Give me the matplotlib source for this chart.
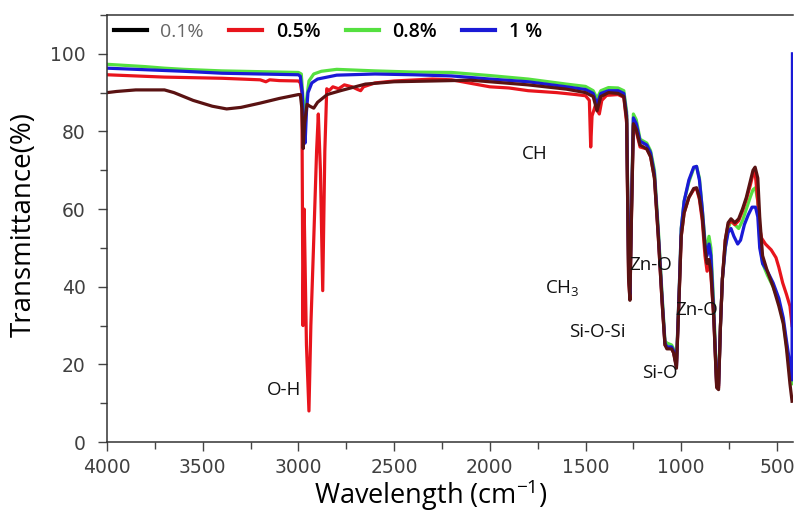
import matplotlib

matplotlib.use("Agg")
import matplotlib.pyplot as plt
from matplotlib.lines import Line2D
from matplotlib.ticker import MultipleLocator

# FTIR spectra: (wavenumber cm-1, transmittance %)
wn_01 = [4000, 3950, 3850, 3700, 3650, 3550, 3450, 3375, 3300, 3200, 3100, 3000,
         2990, 2982, 2975, 2968, 2955, 2940, 2920, 2900, 2850, 2780, 2650, 2500,
         2300, 2100, 2000, 1800, 1600, 1500, 1460, 1440, 1420, 1380, 1330, 1300,
         1285, 1275, 1268, 1260, 1250, 1235, 1215, 1180, 1160, 1140, 1120, 1100,
         1085, 1075, 1050, 1040, 1025, 1010, 1000, 985, 960, 935, 920, 905, 890,
         876, 865, 855, 845, 830, 815, 805, 795, 785, 770, 755, 740, 720, 700,
         680, 660, 640, 625, 614, 600, 590, 575, 550, 520, 490, 467, 450, 432, 421]
t_01 = [90.0, 90.3, 90.7, 90.7, 90.0, 88.0, 86.5, 85.8, 86.2, 87.3, 88.5, 89.5,
        89.5, 86.0, 75.6, 82.0, 87.0, 86.5, 86.0, 87.5, 89.5, 90.5, 92.2, 92.8,
        93.0, 93.2, 92.8, 92.0, 90.9, 90.0, 89.0, 85.3, 89.0, 90.0, 89.8, 89.0,
        83.0, 42.0, 36.5, 58.0, 82.0, 80.5, 76.5, 75.5, 73.5, 68.0, 53.0, 36.0,
        25.0, 24.0, 24.0, 23.0, 19.0, 39.0, 53.0, 59.0, 63.0, 65.3, 65.5, 63.0, 58.0,
        50.0, 46.0, 47.0, 44.0, 32.0, 14.0, 13.5, 30.0, 42.0, 52.0, 56.5, 57.5, 56.5, 57.5,
        60.0, 63.0, 67.0, 70.0, 70.8, 68.0, 58.0, 48.0, 44.0, 40.0, 35.0, 30.5, 24.0, 15.0, 10.5]

wn_05 = [4000, 3900, 3800, 3700, 3600, 3500, 3400, 3300, 3200, 3170, 3150, 3100,
         3000, 2990, 2982, 2976, 2970, 2958, 2945, 2935, 2922, 2905, 2896, 2885,
         2873, 2862, 2852, 2840, 2820, 2790, 2760, 2720, 2690, 2675, 2660, 2600,
         2500, 2300, 2200, 2000, 1900, 1800, 1650, 1550, 1500, 1480, 1473, 1466,
         1450, 1428, 1415, 1390, 1330, 1300, 1285, 1275, 1268, 1260, 1250, 1235,
         1215, 1180, 1160, 1140, 1120, 1100, 1085, 1075, 1050, 1040, 1025, 1010,
         1000, 985, 960, 935, 920, 905, 890, 876, 865, 855, 845, 830, 815, 805, 795,
         785, 770, 755, 740, 720, 700, 680, 660, 640, 625, 614, 600, 590, 580, 560,
         530, 505, 490, 470, 450, 432, 421]
t_05 = [94.6, 94.4, 94.2, 94.0, 93.9, 93.8, 93.7, 93.5, 93.3, 92.8, 93.3, 93.1,
        93.0, 92.5, 90.0, 30.0, 60.0, 25.0, 8.0, 30.0, 49.0, 75.0, 84.5, 70.0,
        39.0, 75.0, 91.0, 90.5, 91.5, 91.0, 92.0, 91.5, 90.8, 90.5, 91.5, 92.5,
        93.0, 93.5, 93.3, 91.5, 91.2, 90.5, 90.0, 89.5, 89.2, 88.0, 76.0, 84.0,
        86.5, 84.5, 88.0, 89.3, 89.5, 88.8, 82.0, 42.0, 37.0, 58.0, 81.5, 80.0,
        76.0, 75.5, 73.5, 68.0, 53.0, 36.0, 25.0, 24.5, 24.0, 23.0, 19.5, 39.0,
        53.0, 59.0, 63.0, 65.0, 65.3, 62.5, 57.0, 48.0, 44.0, 47.0, 43.0, 32.0, 14.5, 14.0, 30.0,
        42.0, 52.0, 56.0, 57.0, 56.0, 57.0, 59.5, 62.5, 66.0, 69.0, 69.5, 62.0, 55.0, 52.5, 51.0,
        49.5, 47.5, 45.0, 41.0, 38.0, 35.0, 30.0]

wn_08 = [4000, 3900, 3800, 3700, 3600, 3500, 3400, 3300, 3200, 3100, 3000, 2985,
         2975, 2968, 2958, 2945, 2920, 2880, 2800, 2600, 2400, 2200, 2000, 1800,
         1600, 1500, 1460, 1440, 1420, 1380, 1330, 1300, 1285, 1275, 1268, 1260,
         1250, 1235, 1215, 1180, 1160, 1140, 1120, 1100, 1085, 1075, 1050, 1040,
         1025, 1010, 1000, 985, 960, 935, 920, 905, 890, 876, 865, 855, 845, 830,
         815, 805, 795, 785, 770, 755, 740, 720, 700, 680, 660, 640, 625, 612, 600,
         590, 575, 550, 520, 490, 467, 450, 432, 421]
t_08 = [97.3, 97.0, 96.7, 96.3, 96.0, 95.8, 95.6, 95.5, 95.4, 95.3, 95.2, 94.8,
        88.0, 81.0, 88.0, 93.0, 94.8, 95.5, 96.0, 95.6, 95.3, 95.2, 94.4, 93.5,
        92.2, 91.6, 90.5, 88.5, 90.5, 91.3, 91.2, 90.5, 85.0, 45.0, 40.0, 60.0,
        84.5, 83.0, 78.0, 77.0, 75.0, 70.0, 55.0, 38.0, 26.0, 25.5, 25.0, 24.0,
        20.5, 40.0, 55.0, 62.0, 67.0, 70.5, 71.0, 68.0, 60.0, 52.0, 50.0, 53.0, 50.0, 35.0,
        16.0, 15.0, 30.0, 42.0, 50.0, 55.0, 57.0, 56.0, 55.0, 57.0, 60.0, 63.0, 65.0, 65.5, 62.0,
        52.0, 46.0, 43.0, 40.0, 36.0, 31.0, 25.0, 18.0, 15.0]

wn_1 = [4000, 3800, 3600, 3400, 3200, 3000, 2990, 2980, 2972, 2965, 2958, 2950,
        2930, 2900, 2800, 2600, 2400, 2200, 2000, 1800, 1600, 1500, 1460, 1440,
        1420, 1380, 1330, 1300, 1285, 1275, 1268, 1260, 1250, 1235, 1215, 1180,
        1160, 1140, 1120, 1100, 1085, 1075, 1050, 1040, 1025, 1010, 1000, 985, 960,
        935, 920, 905, 890, 876, 865, 855, 845, 830, 815, 805, 795, 785, 770, 755,
        740, 725, 705, 690, 670, 650, 630, 612, 600, 590, 575, 550, 520, 490, 467,
        450, 432, 421, 419]
t_1 = [96.3, 95.9, 95.5, 95.0, 94.8, 94.6, 94.2, 90.0, 80.5, 77.0, 85.0, 90.0,
       92.5, 93.5, 94.5, 94.8, 94.6, 94.3, 93.5, 92.8, 91.5, 90.8, 89.8, 87.0,
       89.8, 90.5, 90.5, 89.8, 84.0, 45.0, 38.0, 60.0, 83.5, 82.0, 77.5, 76.5,
       74.5, 69.0, 54.0, 37.0, 25.5, 24.5, 24.5, 23.5, 19.5, 40.0, 55.0, 62.0, 67.5,
       70.8, 71.0, 67.5, 60.0, 51.0, 48.0, 51.0, 48.0, 33.0, 15.0, 14.5, 30.0, 42.0, 50.0, 54.0,
       55.0, 53.0, 51.0, 52.0, 56.0, 58.5, 60.5, 60.5, 58.0, 50.0, 46.0, 44.0, 41.0, 37.0, 32.0,
       26.0, 20.0, 16.0, 100.0]

legend_labels = ["0.1%", "0.5%", "0.8%", "1 %"]
legend_colors = ["#000000", "#e8141c", "#55e040", "#1a1ad6"]

# annotation text, position (wavenumber, transmittance)
peak_labels = ["O-H", "CH", "CH$_3$", "Si-O-Si", "Zn-O", "Zn-O", "Si-O"]
peak_x = [3075, 1764, 1623, 1440, 1158, 919, 1111]
peak_y = [13.4, 74.3, 39.6, 28.3, 45.5, 33.9, 17.7]

BROWN = "#5a1212"
RED = "#e8141c"
GREEN = "#55e040"
BLUE = "#1a1ad6"

plt.rcParams["font.family"] = ["DejaVu Sans"]
plt.rcParams["mathtext.fontset"] = "custom"
plt.rcParams["mathtext.rm"] = "Open Sans"
plt.rcParams["mathtext.it"] = "Open Sans"

fig = plt.figure(figsize=(7.95, 5.15), dpi=100)
ax = fig.add_axes([0.1346, 0.1417, 0.8629, 0.8292])

lw = 2.3
ax.plot(wn_08, t_08, color=GREEN, lw=lw)
ax.plot(wn_05, t_05, color=RED, lw=lw)
ax.plot(wn_1, t_1, color=BLUE, lw=lw)
ax.plot(wn_01, t_01, color=BROWN, lw=lw)

ax.set_xlim(4000, 416)
ax.set_ylim(0, 110)
ax.xaxis.set_major_locator(MultipleLocator(500))
ax.xaxis.set_minor_locator(MultipleLocator(250))
ax.yaxis.set_major_locator(MultipleLocator(20))
ax.yaxis.set_minor_locator(MultipleLocator(10))
ax.tick_params(which="both", direction="out", width=1.0, colors="#444444",
               labelcolor="#404040", labelsize=13.5)
ax.tick_params(which="major", length=6.5)
ax.tick_params(which="minor", length=5)
ax.tick_params(axis="y", which="major", pad=9)
ax.tick_params(axis="x", which="major", pad=5)
ax.spines["right"].set_visible(False)
for s in ("left", "bottom", "top"):
    ax.spines[s].set_linewidth(1.1)
    ax.spines[s].set_color("#333333")

ax.set_ylabel("Transmittance(%)", fontsize=20, family="Open Sans")
ax.yaxis.set_label_coords(-0.101, 0.51)
ax.set_xlabel("Wavelength (cm$^{-1}$)", fontsize=19.5, family="Open Sans")
ax.xaxis.set_label_coords(0.472, -0.084)

for lab, x, y in zip(peak_labels, peak_x, peak_y):
    ax.text(x, y, lab, fontsize=13.5, family="Open Sans", ha="center", va="center",
            color="#111111")

handles = [Line2D([], [], color=c, lw=3) for c in legend_colors]
leg = ax.legend(handles, legend_labels, loc="upper left", bbox_to_anchor=(0.0, 1.0),
                ncol=4, frameon=False, handlelength=1.7, handletextpad=0.7,
                columnspacing=1.3, borderpad=0.15, borderaxespad=0.2,
                prop={"family": "Open Sans", "size": 14})
txts = leg.get_texts()
txts[0].set_color("#666666")
for t in txts[1:]:
    t.set_fontweight("semibold")

fig.savefig("out.png", dpi=100)
